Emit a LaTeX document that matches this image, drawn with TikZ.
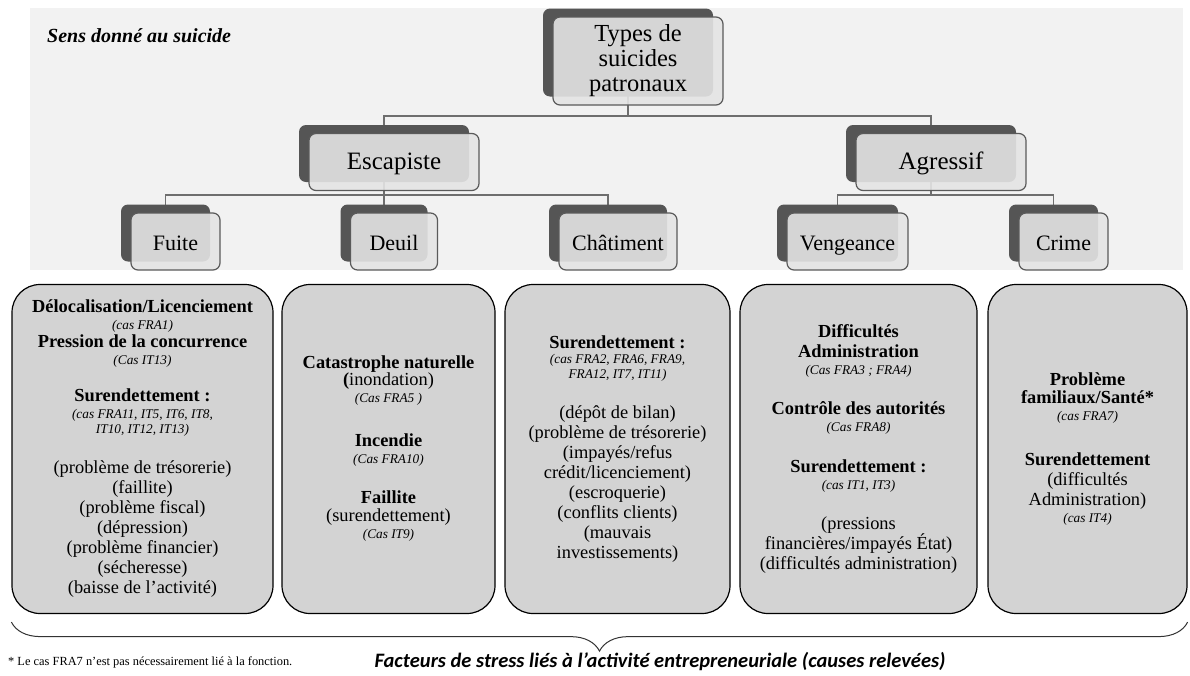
\documentclass[tikz,border=0pt]{standalone}
\usepackage{fontspec}
\setmainfont{Liberation Serif}
\newfontfamily\calibri{Carlito}
\usetikzlibrary{shadows,backgrounds,decorations.pathreplacing}
\definecolor{panneau}{HTML}{F2F2F2}
\definecolor{ombre}{HTML}{555555}
\definecolor{bord}{HTML}{5A5A5A}
\definecolor{devant}{HTML}{E4E4E4}
\definecolor{fondcase}{HTML}{D3D3D3}
\definecolor{trait}{HTML}{6E6E6E}
\newcommand{\cas}{\fontsize{13.3}{15}\selectfont\itshape}

\begin{document}
\begin{tikzpicture}[x=1pt,y=-1pt]
	\tikzset{type/.style = {shape=rectangle,draw=bord,line width=1.2pt,rounded corners=7pt,fill=devant,fill opacity=0.9,text opacity=1,inner sep=0pt,
		copy shadow={shadow xshift=-10pt,shadow yshift=8.5pt,fill=ombre,draw=none,fill opacity=1}}}
	\tikzset{niveau/.style = {type,minimum height=57pt,font=\fontsize{22}{24}\selectfont,text height=21pt,text depth=4pt}}
	\tikzset{cause/.style = {shape=rectangle,draw=black,line width=1.2pt,rounded corners=28pt,fill=fondcase,align=center,minimum height=329pt,inner sep=0pt,font=\fontsize{18.4}{20}\selectfont}}
	\tikzset{edge/.style = {draw=trait,line width=1.3pt}}
	\tikzset{sh/.style = {shift={(-10,-8.5)}}}
	\tikzset{accolade/.style = {decorate,decoration={brace,mirror,amplitude=29pt},draw=black!80,line width=1pt}}
	\useasboundingbox (0,0) rectangle (1190,675);
	\node[anchor=base west,inner sep=0pt,font=\fontsize{20}{24}\selectfont\bfseries\itshape] (sens) at (47,42) {Sens donné au suicide};
	% arbre
	\node[type,minimum width=170pt,minimum height=88pt,align=center,font=\fontsize{24.5}{25}\selectfont] (types) at (638,61) {Types de\\suicides\\patronaux};
	\node[niveau,minimum width=170pt,font=\fontsize{25}{25}\selectfont,text height=20pt,text depth=5pt] (esca) at (394,162) {Escapiste};
	\node[niveau,minimum width=170pt,font=\fontsize{25}{25}\selectfont,text height=20pt,text depth=5pt] (agre) at (941,162) {Agressif};
	\node[niveau,minimum width=89pt] (fuite) at (175.5,241.5) {Fuite};
	\node[niveau,minimum width=87pt] (deuil) at (394,241.5) {Deuil};
	\node[niveau,minimum width=118pt] (chati) at (618,241.5) {Châtiment};
	\node[niveau,minimum width=121pt] (venge) at (847.5,241.5) {Vengeance};
	\node[niveau,minimum width=89pt] (crime) at (1063.5,241.5) {Crime};
	% causes
	\node[cause,minimum width=261pt] (c1) at (142.5,449) {\textbf{Délocalisation/Licenciement}\\[-3pt]
		{\cas (cas FRA1)}\\[-2pt]
		\textbf{Pression de la concurrence}\\[-3pt]
		{\cas (Cas IT13)}\\[17pt]
		\textbf{Surendettement :}\\[-3pt]
		{\cas (cas FRA11, IT5, IT6, IT8,}\\[-5pt]
		{\cas IT10, IT12, IT13)}\\[20pt]
		(problème de trésorerie)\\(faillite)\\(problème fiscal)\\(dépression)\\(problème financier)\\(sécheresse)\\(baisse de l’activité)};
	\node[cause,minimum width=213pt] (c2) at (388.5,449) {\textbf{Catastrophe naturelle}\\[-3pt]
		\textbf{(}inondation)\\[-3pt]
		{\cas (Cas FRA5 )}\\[24pt]
		\textbf{Incendie}\\[-3pt]
		{\cas (Cas FRA10)}\\[20pt]
		\textbf{Faillite}\\[-2pt]
		(surendettement)\\[-3pt]
		{\cas (Cas IT9)}};
	\node[cause,minimum width=225pt] (c3) at (617.5,449) {\textbf{Surendettement :}\\[-5pt]
		{\cas (cas FRA2, FRA6, FRA9,}\\[-5pt]
		{\cas FRA12, IT7, IT11)}\\[20pt]
		(dépôt de bilan)\\(problème de trésorerie)\\(impayés/refus\\crédit/licenciement)\\(escroquerie)\\(conflits clients)\\(mauvais\\investissements)};
	\node[cause,minimum width=237pt] (c4) at (858.5,449) {\textbf{Difficultés}\\
		\textbf{Administration}\\[-3pt]
		{\cas (Cas FRA3 ; FRA4)}\\[20pt]
		\textbf{Contrôle des autorités}\\[-3pt]
		{\cas (Cas FRA8)}\\[21pt]
		\textbf{Surendettement :}\\[-3pt]
		{\cas (cas IT1, IT3)}\\[20pt]
		(pressions\\financières/impayés État)\\(difficultés administration)};
	\node[cause,minimum width=199pt] (c5) at (1087.5,449) {\textbf{Problème}\\[-2pt]
		\textbf{familiaux/Santé*}\\[-3pt]
		{\cas (cas FRA7)}\\[25pt]
		\textbf{Surendettement}\\
		(difficultés\\Administration)\\[-3pt]
		{\cas (cas IT4)}};
	\draw[accolade] ([yshift=-8pt]c1.south west) -- ([yshift=-8pt]c5.south east);
	\node[anchor=base west,inner sep=0pt,font=\fontsize{12.4}{14}\selectfont] (note) at (8,665) {* Le cas FRA7 n’est pas nécessairement lié à la fonction.};
	\node[anchor=base,inner sep=0pt,font=\calibri\bfseries\itshape\fontsize{20.5}{24}\selectfont] (facteurs) at (660,667) {Facteurs de stress liés à l’activité entrepreneuriale (causes relevées)};
	\begin{pgfonlayer}{background}
	\fill[panneau] (30,8) rectangle (1183,270);
	%edges
	\draw[edge] ([sh]types.center) -- ++(0,63.5) -| ([sh]esca.center);
	\draw[edge] ([sh]types.center) -- ++(0,63.5) -| ([sh]agre.center);
	\draw[edge] ([sh]esca.center) -- ++(0,41.5) -| ([sh]fuite.center);
	\draw[edge] ([sh]esca.center) -- ([sh]deuil.center);
	\draw[edge] ([sh]esca.center) -- ++(0,41.5) -| ([sh]chati.center);
	\draw[edge] ([sh]agre.center) -- ++(0,41.5) -| ([sh]venge.center);
	\draw[edge] ([sh]agre.center) -- ++(0,41.5) -| ([sh]crime.center);
	\end{pgfonlayer}
\end{tikzpicture}
\end{document}
